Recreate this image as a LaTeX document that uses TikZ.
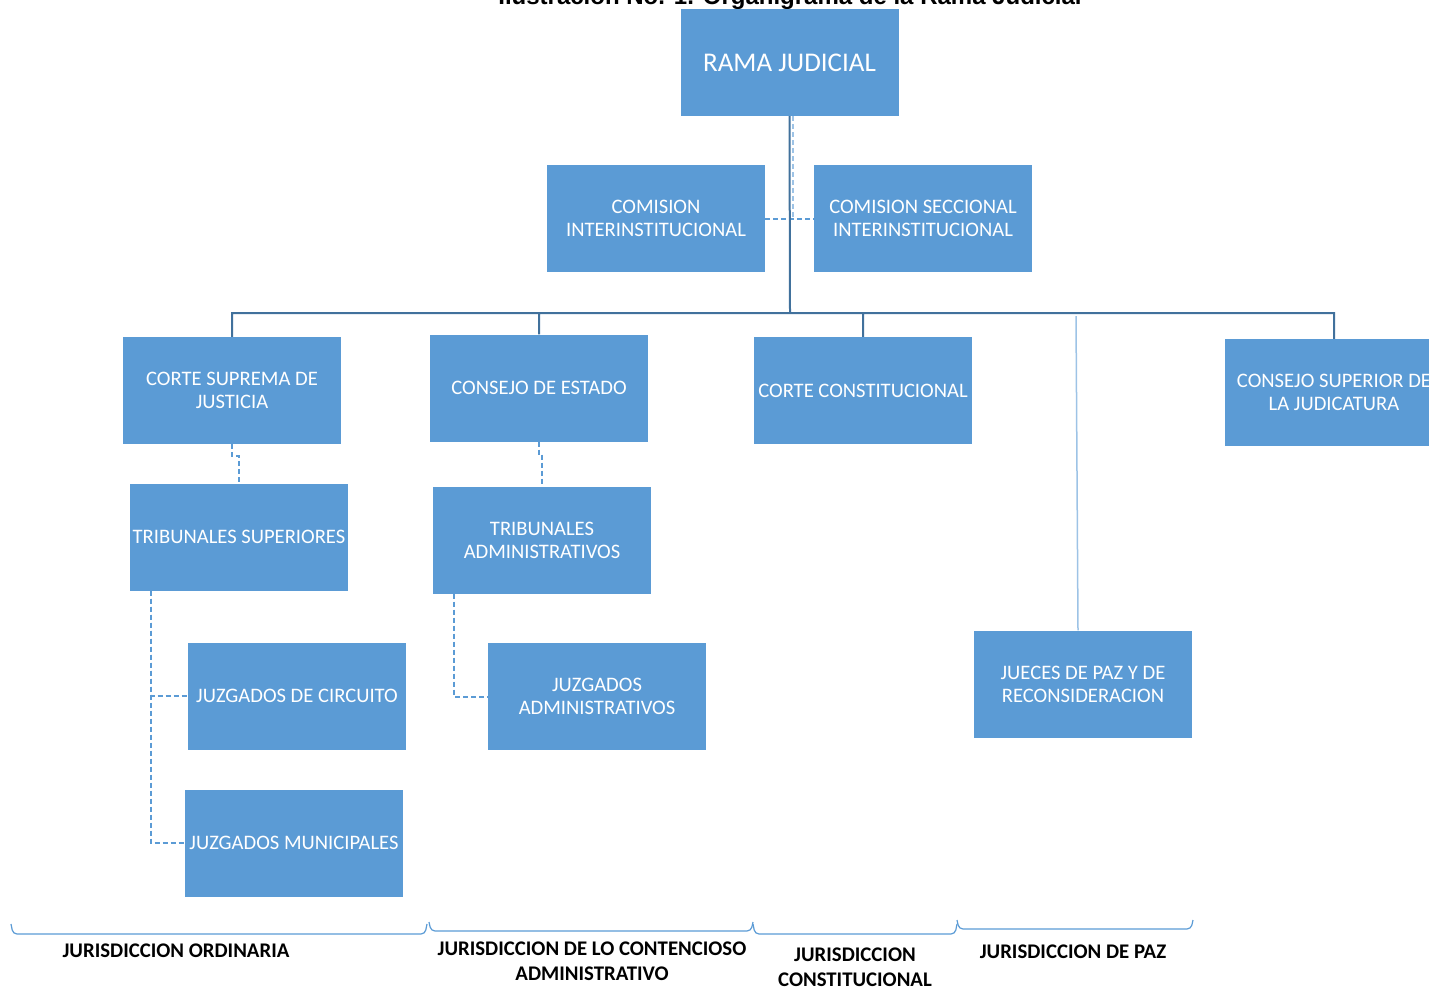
\documentclass[tikz,border=0pt]{standalone}
\usepackage{fontspec}
\setmainfont{Carlito}
\newfontfamily\titlefont{Liberation Sans}
\usetikzlibrary{positioning}
\definecolor{boxblue}{HTML}{5B9BD5}
\definecolor{linkblue}{HTML}{41719C}
\definecolor{paleblue}{HTML}{9DC3E6}

\begin{document}
\begin{tikzpicture}[x=1pt,y=-1pt]
    \tikzset{block/.style= {fill=boxblue, text=white
    , minimum width=218pt, minimum height=107pt
    , inner sep=0pt, align=center
    , font=\fontsize{20.6}{23}\selectfont
      }
    , solid link/.style={draw=linkblue, line width=2pt}
    , dash link/.style={draw=boxblue, line width=2pt, dash pattern=on 5pt off 3pt}
    , brace/.style={draw=boxblue, line width=1.2pt, rounded corners=4pt}
    , juris/.style={font=\bfseries\fontsize{20.8}{25}\selectfont, align=center}
    }

\useasboundingbox (0,0) rectangle (1429,989);
\node [font=\titlefont\bfseries\fontsize{24}{28}\selectfont, anchor=base] (title) at (790,4) {Ilustración No. 1. Organigrama de la Rama Judicial};

\node [block, font=\fontsize{27}{30}\selectfont] (rama) at (789.5,62.5) {RAMA JUDICIAL};
\node [block] (cominter) at (656,218.5) {COMISION\\INTERINSTITUCIONAL};
\node [block] (comsecc) at (923,218.5) {COMISION SECCIONAL\\INTERINSTITUCIONAL};
\node [block] (csj) at (232,390.5) {CORTE SUPREMA DE\\JUSTICIA};
\node [block] (ce) at (539,388) {CONSEJO DE ESTADO};
\node [block] (cc) at (863,390.5) {CORTE CONSTITUCIONAL};
\node [block] (csjud) at (1334,392.5) {CONSEJO SUPERIOR DE\\LA JUDICATURA};
\node [block] (ts) at (239,537) {TRIBUNALES SUPERIORES};
\node [block] (ta) at (542,540) {TRIBUNALES\\ADMINISTRATIVOS};
\node [block] (jc) at (297,696) {JUZGADOS DE CIRCUITO};
\node [block] (ja) at (597,696.5) {JUZGADOS\\ADMINISTRATIVOS};
\node [block] (jm) at (294,843) {JUZGADOS MUNICIPALES};
\node [block] (jueces) at (1083,684) {JUECES DE PAZ Y DE\\RECONSIDERACION};

% dashed links
\draw [dash link, draw=paleblue] ([xshift=3pt]rama.south) -- ([xshift=3pt]rama.south |- cominter.east);
\draw [dash link] (cominter.east) -- (comsecc.west);
\draw [dash link] (csj.south) -- ++(0,12) -| (ts.north);
\draw [dash link] (ce.south) -- ++(0,12) -| (ta.north);
\draw [dash link] ([xshift=-88pt]ts.south) |- (jc.west);
\draw [dash link] ([xshift=-88pt]ts.south) |- (jm.west);
\draw [dash link] ([xshift=-88pt]ta.south) |- (ja.west);

% main tree
\coordinate (bus) at (790,313);
\coordinate (pazbus) at (1076,316);
 \path[solid link]
  (rama.south) -- (bus)
  (bus) -| (csj.north)
  (bus) -| (ce.north)
  (bus) -| (cc.north)
  (bus) -| (csjud.north);
\draw [draw=paleblue, line width=1.5pt] (pazbus) -- ([xshift=-5pt]jueces.north);

% jurisdicciones
\draw [brace] (11,924) -- (13,934) -- (425,934) -- (427,924);
\draw [brace] (429,922) -- (431,931) -- (751,931) -- (753,922);
\draw [brace] (753,924) -- (755,934) -- (955,934) -- (957,924);
\draw [brace] (957,920) -- (959,929) -- (1191,929) -- (1193,920);

\node [juris] (ordinaria) at (176,951) {JURISDICCION ORDINARIA};
\node [juris] (contencioso) at (592,961.5) {JURISDICCION DE LO CONTENCIOSO\\ADMINISTRATIVO};
\node [juris] (constitucional) at (855,967.5) {JURISDICCION\\CONSTITUCIONAL};
\node [juris] (paz) at (1073,952) {JURISDICCION DE PAZ};
\end{tikzpicture}
\end{document}
